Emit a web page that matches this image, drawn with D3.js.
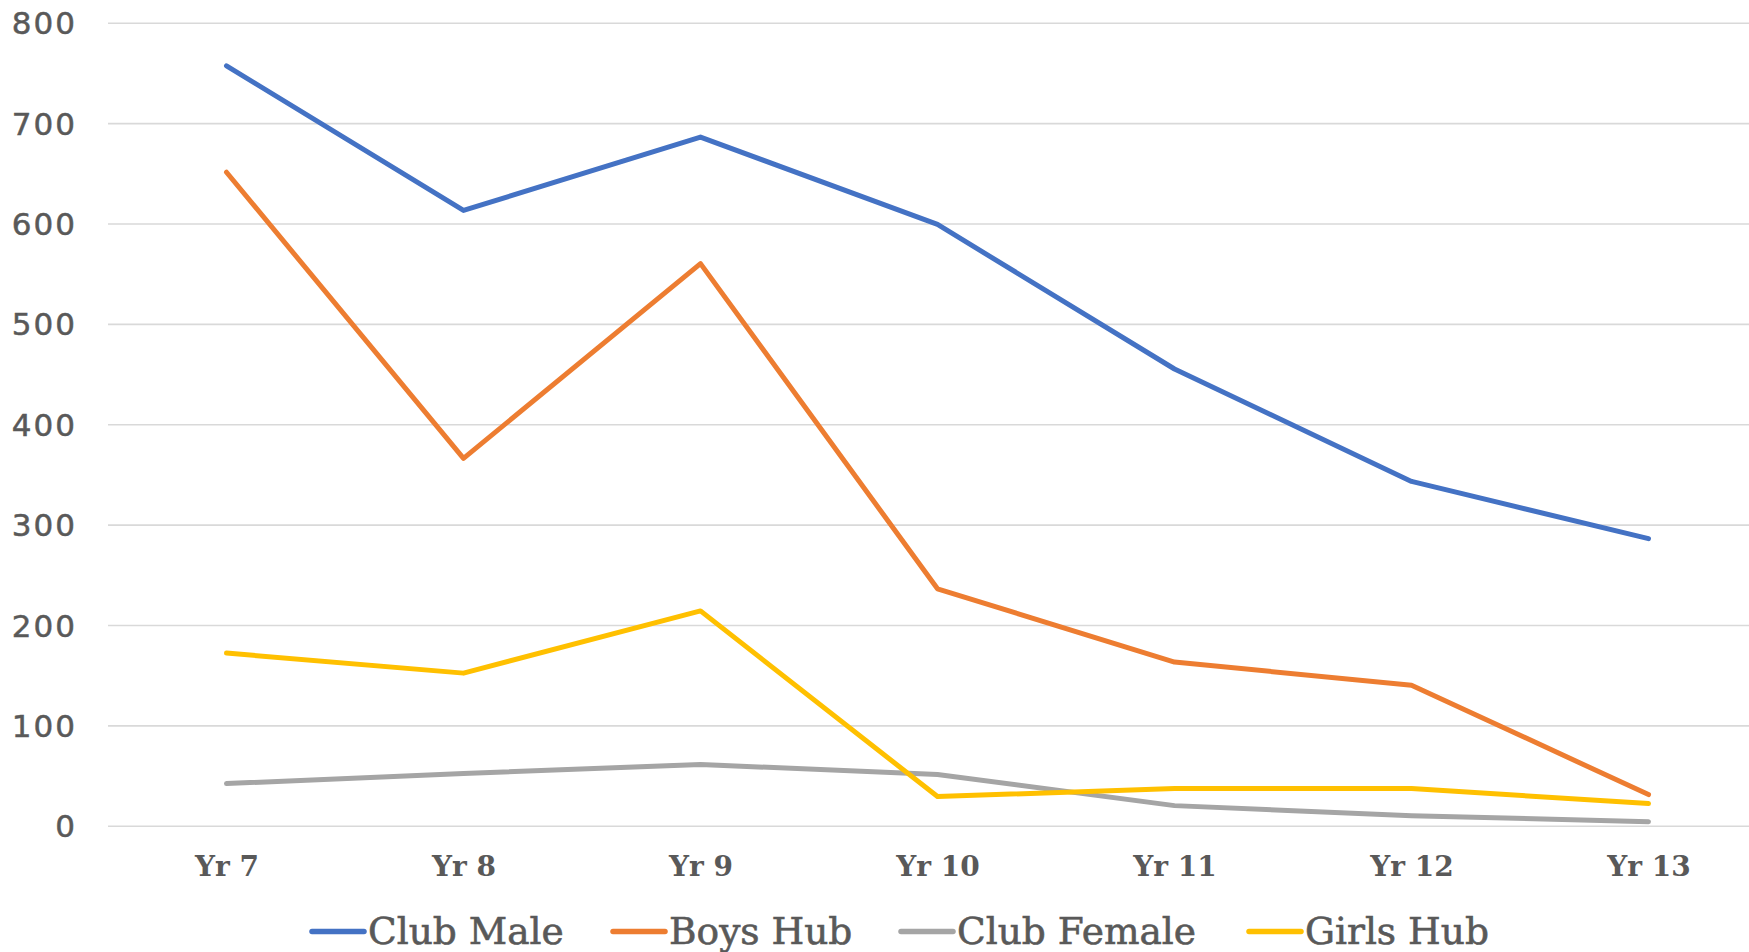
<!DOCTYPE html>
<html>
<head>
<meta charset="utf-8">
<script src="https://cdn.jsdelivr.net/npm/d3@7"></script>
<style>
  body { margin: 0; background: #fff; }
  svg { display: block; }
</style>
</head>
<body>
<svg width="1749" height="952"></svg>
<script>
// chart data
const years = ["Yr 7", "Yr 8", "Yr 9", "Yr 10", "Yr 11", "Yr 12", "Yr 13"]
const clubMale = [757, 613, 686, 599, 455, 343, 286]
const boysHub = [651, 366, 560, 236, 163, 140, 31]
const clubFemale = [42, 52, 61, 51, 20, 10, 4]
const girlsHub = [172, 152, 214, 29, 37, 37, 22]
const seriesNames = ["Club Male", "Boys Hub", "Club Female", "Girls Hub"]
const yTicks = [0, 100, 200, 300, 400, 500, 600, 700, 800]

const colors = ["#4472C4", "#ED7D31", "#A5A5A5", "#FFC000"]
const seriesValues = [clubMale, boysHub, clubFemale, girlsHub]

const width = 1749
const height = 952
let plotLeft = 108
let plotRight = 1767  // plot area runs a little past the picture edge
let plotTop = 22.7
let plotBottom = 825.7

const svg = d3.select("svg")

const x = d3.scalePoint()
    .domain(years)
    .range([plotLeft, plotRight])
    .padding(0.5)

const y = d3.scaleLinear()
    .domain([0, 800])
    .range([plotBottom, plotTop])

// gridlines + y labels
const yAxis = svg.append("g")
    .attr("transform", `translate(${plotLeft},0)`)
    .call(d3.axisLeft(y).tickValues(yTicks).tickSize(-(width - plotLeft)).tickPadding(31))

yAxis.select(".domain").remove()
yAxis.selectAll(".tick line")
    .attr("stroke", "#D9D9D9")
    .attr("stroke-width", 1.6)
yAxis.selectAll(".tick text")
    .attr("fill", "#595959")
    .attr("font-family", "'DejaVu Sans', sans-serif")
    .attr("font-size", 31)
    .attr("letter-spacing", 2)
    .attr("stroke", "#595959")
    .attr("stroke-width", 0.5)
    .attr("dy", "0.36em")

// x labels
const xAxis = svg.append("g")
    .attr("transform", `translate(0,${plotBottom})`)
    .call(d3.axisBottom(x).tickSize(0).tickPadding(0))

xAxis.select(".domain").remove()
xAxis.selectAll(".tick text")
    .attr("y", 50)
    .attr("dy", 0)
    .attr("fill", "#595959")
    .attr("font-family", "'DejaVu Serif', serif")
    .attr("font-weight", "bold")
    .attr("font-size", 28)

// lines
const line = d3.line()
    .x((d, i) => x(years[i]))
    .y(d => y(d))

seriesValues.forEach((vals, i) => {
    svg.append("path")
        .datum(vals)
        .attr("d", line)
        .attr("fill", "none")
        .attr("stroke", colors[i])
        .attr("stroke-width", 5)
        .attr("stroke-linejoin", "round")
        .attr("stroke-linecap", "round")
})

// legend
let legendX = [310, 611, 899, 1247]
let legendY = 931.5

const legend = svg.append("g")
seriesNames.forEach((name, i) => {
    let g = legend.append("g").attr("transform", `translate(${legendX[i]},${legendY})`)
    g.append("line")
        .attr("x1", 2).attr("x2", 54)
        .attr("y1", 0).attr("y2", 0)
        .attr("stroke", colors[i])
        .attr("stroke-width", 5.5)
        .attr("stroke-linecap", "round")
    g.append("text")
        .attr("x", 58)
        .attr("y", 12.5)
        .attr("fill", "#595959")
        .attr("stroke", "#595959")
        .attr("stroke-width", 0.6)
        .attr("font-family", "'DejaVu Serif', serif")
        .attr("font-size", 37.5)
        .text(name)
})
</script>
</body>
</html>
